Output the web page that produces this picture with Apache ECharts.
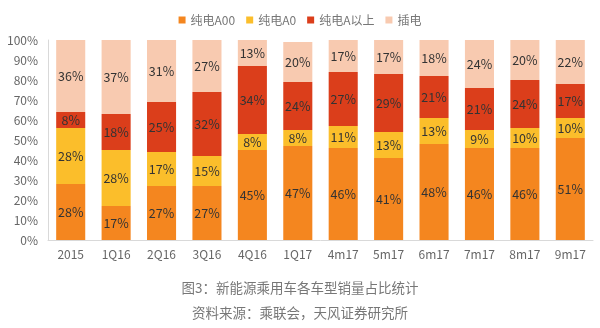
<!DOCTYPE html>
<html><head><meta charset="utf-8">
<script src="https://cdn.jsdelivr.net/npm/echarts@6/dist/echarts.min.js"></script>
<style>html,body{margin:0;padding:0;background:#fff}#c{width:600px;height:328px}</style>
</head><body><div id="c"></div>
<script>
const categories = ['2015','1Q16','2Q16','3Q16','4Q16','1Q17','4m17','5m17','6m17','7m17','8m17','9m17'];
const seriesNames = ['纯电A00','纯电A0','纯电A以上','插电'];
const a00 = [28,17,27,27,45,47,46,41,48,46,46,51];
const a0 = [28,28,17,15,8,8,11,13,13,9,10,10];
const aPlus = [8,18,25,32,34,24,27,29,21,21,24,17];
const phev = [36,37,31,27,13,20,17,17,18,24,20,22];
const yTicks = [0,10,20,30,40,50,60,70,80,90,100];
const colors = ['#F4861F','#FBBE2B','#DB3E1B','#F8CAB0'];
const caption1 = '图3：新能源乘用车各车型销量占比统计';
const caption2 = '资料来源：乘联会，天风证券研究所';

const data = [a00, a0, aPlus, phev];
const chart = echarts.init(document.getElementById('c'));
chart.setOption({
  animation: false,
  textStyle: {fontFamily: '"Noto Sans CJK SC", "Liberation Sans", sans-serif'},
  legend: {
    top: 9, left: 'center', itemWidth: 7, itemHeight: 7, itemGap: 11, icon: 'rect',
    textStyle: {color: '#777', fontSize: 12}
  },
  grid: {left: 48, right: 7, top: 40, bottom: 88},
  xAxis: {
    type: 'category', data: categories,
    axisLine: {lineStyle: {color: '#D9D9D9'}}, axisTick: {show: false},
    axisLabel: {color: '#666', fontSize: 12, margin: 8}
  },
  yAxis: {
    type: 'value', min: 0, max: 100, interval: 10,
    axisLine: {show: true, lineStyle: {color: '#D9D9D9'}}, axisTick: {show: false},
    splitLine: {show: false},
    axisLabel: {color: '#666', fontSize: 12, margin: 10, formatter: v => yTicks.includes(v) ? v + '%' : ''}
  },
  series: seriesNames.map((n, i) => ({
    name: n, type: 'bar', stack: 'total', barWidth: '64%',
    itemStyle: {color: colors[i]},
    label: {show: true, position: 'inside', color: '#333', fontSize: 12.5, formatter: p => p.value + '%'},
    data: data[i]
  })),
  graphic: [
    {type: 'text', left: 'center', top: 281, style: {text: caption1, fill: '#777', fontSize: 13.5, fontFamily: '"Noto Sans CJK SC", sans-serif'}},
    {type: 'text', left: 'center', top: 306, style: {text: caption2, fill: '#777', fontSize: 13.5, fontFamily: '"Noto Sans CJK SC", sans-serif'}}
  ]
});
</script></body></html>
